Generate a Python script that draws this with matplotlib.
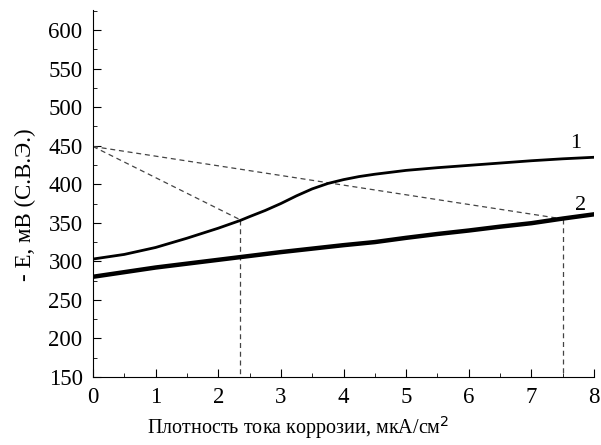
import numpy as np
import matplotlib.pyplot as plt
from matplotlib.ticker import MultipleLocator

# curve 1
x1 = [0, 0.5, 1, 1.5, 2, 2.35, 2.5, 2.75, 3, 3.25, 3.5, 3.75, 4, 4.25, 4.5, 5, 5.5, 6, 6.5, 7, 7.5, 8]
y1 = [303, 309, 318, 330, 343, 353, 358, 366, 375, 385, 394, 401, 406, 410, 413, 418, 421.5, 424.5, 427.5, 430.5, 433, 435]
# curve 2
x2 = [0, 0.5, 1, 1.5, 2, 2.5, 3, 3.5, 4, 4.5, 5, 5.5, 6, 6.5, 7, 7.5, 8]
y2 = [280, 286, 292, 297, 302, 307, 312, 316.5, 321, 325, 330.5, 335.5, 340, 345, 349.5, 355.5, 361]

# construction lines
e0 = 449
i_corr = [2.35, 7.5]
e_corr = [354, 355]

plt.rcParams['font.family'] = ['Liberation Serif', 'DejaVu Serif']

fig = plt.figure(figsize=(6.01, 4.45), dpi=100)
ax = fig.add_axes([0.1547, 0.1528, 0.8337, 0.8247])

for xi, ei in zip(i_corr, e_corr):
    ax.plot([0, xi], [e0, ei], color='#444444', linewidth=0.9, dashes=(4, 3))
    ax.plot([xi, xi], [ei, 150], color='#444444', linewidth=0.9, dashes=(4, 3))

ax.plot(x1, y1, color='k', linewidth=2)
ax.plot(x2, y2, color='k', linewidth=3.2)

ax.text(7.62, 447, '1', fontsize=16)
ax.text(7.7, 366, '2', fontsize=16)

ax.set_xlim(0, 8)
ax.set_ylim(150, 626)
ax.spines['top'].set_visible(False)
ax.spines['right'].set_visible(False)
ax.xaxis.set_major_locator(MultipleLocator(1))
ax.xaxis.set_minor_locator(MultipleLocator(0.5))
ax.yaxis.set_minor_locator(MultipleLocator(25))
ax.set_yticks(np.arange(150, 601, 50))
ax.tick_params(which='both', direction='in', labelsize=16.5, pad=7.5)
ax.tick_params(which='major', length=6)
ax.tick_params(which='minor', length=3)

ax.set_xlabel('Плотность тока коррозии, мкА/см$^2$', fontsize=14.5)
ax.set_ylabel('- E, мВ (С.В.Э.)', fontsize=16.5)
ax.xaxis.set_label_coords(0.41, -0.1)
ax.yaxis.set_label_coords(-0.114, 0.47)

fig.savefig('out.png', dpi=100)
